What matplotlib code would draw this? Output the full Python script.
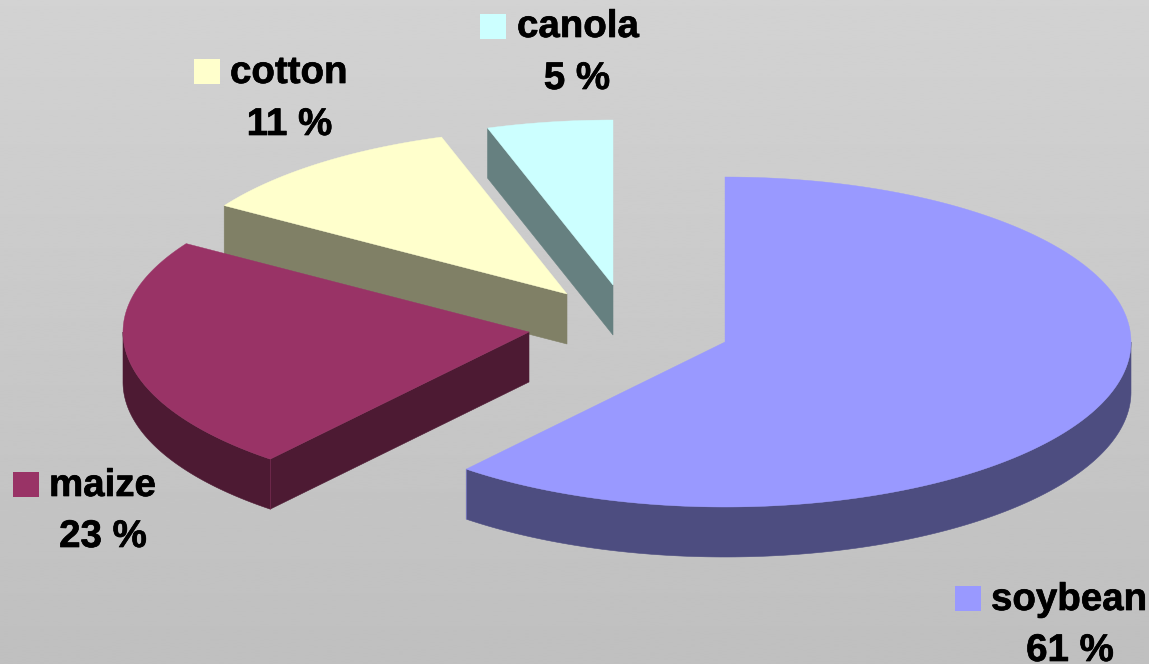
import numpy as np
import matplotlib
matplotlib.use("Agg")
import matplotlib.pyplot as plt
import matplotlib.patheffects as pe
from matplotlib.patches import Polygon, Rectangle
from matplotlib.path import Path

# ---- data ----
categories = ["soybean", "maize", "cotton", "canola"]
shares = [61, 23, 11, 5]
pct_labels = ["61 %", "23 %", "11 %", "5 %"]

# ---- style / layout ----
top_colors = ["#9999FF", "#993366", "#FFFFCC", "#CCFFFF"]
side_colors = ["#4D4D80", "#4D1A33", "#808066", "#668080"]
apexes = [(725, 342), (529, 332), (567, 294), (613, 285)]   # exploded slice apexes (px)
RX, RY, DEPTH = 406, 165, 50
draw_order = [0, 3, 2, 1]
highlight_corner = {0: -1, 1: 0}   # which rim end shows a thin light corner line
swatch_xy = [(955, 586), (13, 472), (194, 59), (480, 14)]
name_xy = [(991, 610), (49, 496), (230, 83), (517, 37)]
pct_xy = [(1070, 661), (103, 547), (289.5, 135), (577, 89)]
SWATCH_W, SWATCH_H = 26, 25
FONT_SIZE = 27.7

plt.rcParams["font.family"] = ["Liberation Sans", "DejaVu Sans"]
fig = plt.figure(figsize=(11.49, 6.64), dpi=100)
ax = fig.add_axes([0, 0, 1, 1])
ax.set_xlim(0, 1149)
ax.set_ylim(664, 0)
ax.axis("off")

# background: vertical grey gradient
grad = np.linspace(0.825, 0.75, 256)[:, None]
ax.imshow(grad, cmap="gray", vmin=0, vmax=1, extent=(0, 1149, 664, 0),
          aspect="auto", zorder=0, interpolation="bilinear")

fractions = np.array(shares, dtype=float) / sum(shares)
edges = np.concatenate([[0], np.cumsum(fractions)]) * 2 * np.pi


def rim_points(i, t):
    cx, cy = apexes[i]
    return np.column_stack([cx + RX * np.sin(t), cy - RY * np.cos(t)])


def side_patch(pts, color, z):
    ax.add_patch(Polygon(pts, closed=True, facecolor=color, edgecolor=color,
                         linewidth=0.4, zorder=z))


z = 2
down = np.array([0, DEPTH])
for i in draw_order:
    t = np.linspace(edges[i], edges[i + 1], max(8, int(400 * fractions[i])))
    rim = rim_points(i, t)
    apex = np.array(apexes[i], dtype=float)
    wedge = np.vstack([apex, rim])

    # outer wall: only the front half of the rim can be seen
    lo, hi = max(edges[i], np.pi / 2), min(edges[i + 1], 3 * np.pi / 2)
    if hi > lo:
        front = rim_points(i, np.linspace(lo, hi, 200))
        side_patch(np.vstack([front, (front + down)[::-1]]), side_colors[i], z)

    # radial walls: only where the ground below the edge lies outside the slice
    wedge_path = Path(wedge)
    for end in (rim[0], rim[-1]):
        mid = (apex + end) / 2
        if abs(end[0] - apex[0]) > 1 and not wedge_path.contains_point(mid + (0, 3)):
            side_patch(np.vstack([apex, end, end + down, apex + down]), side_colors[i], z)

    if i in highlight_corner:
        p = rim[highlight_corner[i]]
        ax.plot([p[0], p[0]], [p[1], p[1] + DEPTH], color=top_colors[i],
                lw=0.6, alpha=0.45, zorder=z + 0.5)
    ax.add_patch(Polygon(wedge, closed=True, facecolor=top_colors[i],
                         edgecolor=top_colors[i], linewidth=0.3, zorder=z + 1))
    z += 2

bold = [pe.withStroke(linewidth=0.5, foreground="black")]
for i, name in enumerate(categories):
    sx, sy = swatch_xy[i]
    ax.add_patch(Rectangle((sx, sy), SWATCH_W, SWATCH_H, facecolor=top_colors[i],
                           edgecolor="none", zorder=20))
    ax.text(*name_xy[i], name, fontsize=FONT_SIZE, fontweight="bold", color="black",
            ha="left", va="baseline", zorder=21, path_effects=bold)
    ax.text(*pct_xy[i], pct_labels[i], fontsize=FONT_SIZE, fontweight="bold", color="black",
            ha="center", va="baseline", zorder=21, path_effects=bold)

fig.savefig("out.png", dpi=100)
